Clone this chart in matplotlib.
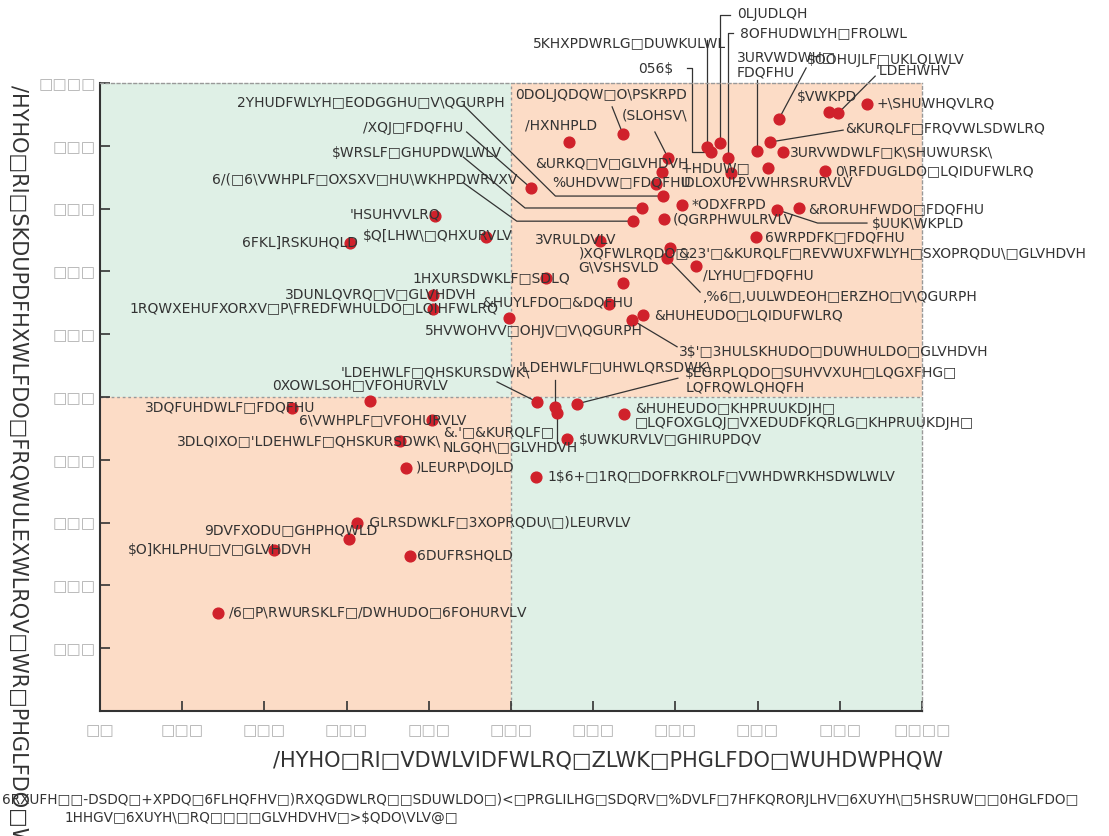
import matplotlib
matplotlib.use("Agg")
import matplotlib.pyplot as plt

plt.rcParams['font.family'] = ['DejaVu Sans']

# 疾患名(表示されている文字のまま)
disease = [
    "+\\SHUWHQVLRQ", "'LDEHWHV", "$VWKPD", "$OOHUJLF□UKLQLWLV",
    "&KURQLF□FRQVWLSDWLRQ", "3URVWDWLF□K\\SHUWURSK\\", "0\\RFDUGLDO□LQIDUFWLRQ",
    "2VWHRSRURVLV", "3URVWDWH□\nFDQFHU", "8OFHUDWLYH□FROLWL", "0LJUDLQH", "056$",
    "5KHXPDWRLG□DUWKULWL", "+HDUW□\nIDLOXUH", "(SLOHSV\\", "0DOLJQDQW□O\\PSKRPD",
    "/HXNHPLD", "&URKQ□V□GLVHDVH", "%UHDVW□FDQFHU", "2YHUDFWLYH□EODGGHU□V\\QGURPH",
    "*ODXFRPD", "&RORUHFWDO□FDQFHU", "$UUK\\WKPLD", "6WRPDFK□FDQFHU",
    "$WRSLF□GHUPDWLWLV", "6/(□6\\VWHPLF□OXSXV□HU\\WKHPDWRVXV", "(QGRPHWULRVLV",
    "/XQJ□FDQFHU", "3VRULDVLV", "&23'□&KURQLF□REVWUXFWLYH□SXOPRQDU\\□GLVHDVH",
    ",%6□,UULWDEOH□ERZHO□V\\QGURPH", "/LYHU□FDQFHU", "1HXURSDWKLF□SDLQ",
    ")XQFWLRQDO□\nG\\VSHSVLD", "&HUYLFDO□&DQFHU", "&HUHEUDO□LQIDUFWLRQ",
    "3$'□3HULSKHUDO□DUWHULDO□GLVHDVH", "5HVWOHVV□OHJV□V\\QGURPH",
    "'HSUHVVLRQ", "$Q[LHW\\□QHXURVLV", "6FKL]RSKUHQLD", "3DUNLQVRQ□V□GLVHDVH",
    "1RQWXEHUFXORXV□P\\FREDFWHULDO□LQIHFWLRQ", "0XOWLSOH□VFOHURVLV",
    "3DQFUHDWLF□FDQFHU", "6\\VWHPLF□VFOHURVLV", "3DLQIXO□'LDEHWLF□QHSKURSDWK\\",
    ")LEURP\\DOJLD", ",GLRSDWKLF□3XOPRQDU\\□)LEURVLV", "9DVFXODU□GHPHQWLD",
    "$O]KHLPHU□V□GLVHDVH", "6DUFRSHQLD", "$/6□$P\\RWURSKLF□/DWHUDO□6FOHURVLV",
    "'LDEHWLF□QHSKURSDWK\\", "'LDEHWLF□UHWLQRSDWK\\", "&.'□&KURQLF□\nNLGQH\\□GLVHDVH",
    "$EGRPLQDO□SUHVVXUH□LQGXFHG□\nLQFRQWLQHQFH",
    "&HUHEUDO□KHPRUUKDJH□\n□LQFOXGLQJ□VXEDUDFKQRLG□KHPRUUKDJH□",
    "$UWKURVLV□GHIRUPDQV", "1$6+□1RQ□DOFRKROLF□VWHDWRKHSDWLWLV",
]

# 治療満足度 (x)
satisfaction = [
    93.3, 89.8, 88.7, 82.6, 81.5, 83.1, 88.2, 81.3, 79.9, 76.4, 75.4, 74.3,
    73.8, 76.8, 69.1, 63.6, 57.1, 68.4, 67.6, 68.5, 70.8, 85.0, 82.4, 79.8,
    65.9, 64.8, 68.6, 52.4, 60.8, 69.3, 69.0, 72.5, 54.3, 63.6, 61.9, 66.1,
    64.7, 49.8, 40.8, 47.0, 30.4, 40.5, 40.5, 32.8, 23.4, 40.4, 36.5, 37.2,
    31.3, 30.3, 21.2, 37.7, 14.4, 53.2, 55.4, 55.6, 58.0, 63.7, 56.8, 53.0,
]

# 薬剤貢献度 (y)
contribution = [
    96.7, 95.2, 95.4, 94.3, 90.6, 89.0, 86.0, 86.5, 89.2, 88.1, 90.4, 89.0,
    89.8, 85.7, 88.1, 91.9, 90.6, 85.8, 83.9, 82.0, 80.6, 80.1, 79.8, 75.5,
    80.1, 78.0, 78.3, 83.3, 74.8, 73.7, 72.1, 70.9, 68.9, 68.2, 64.8, 63.1,
    62.3, 62.6, 78.8, 75.5, 74.5, 66.2, 64.0, 49.4, 48.2, 46.3, 43.0, 38.7,
    29.9, 27.4, 25.6, 24.7, 15.6, 49.2, 48.4, 47.5, 48.9, 47.3, 43.3, 37.3,
]

# ラベル位置 (左端, 中心)
label_xy = [
    (94.5, 96.7), (94.4, 101.9), (84.8, 97.8), (86.0, 103.7), (90.6, 92.8),
    (83.9, 89.0), (89.4, 86.0), (77.6, 84.1), (77.5, 102.9), (77.9, 108.0),
    (77.5, 111.0), (65.5, 102.2), (52.7, 106.4), (70.6, 85.2), (63.5, 94.9),
    (50.5, 98.1), (51.7, 93.3), (52.9, 87.3), (55.0, 84.2), (16.7, 97.0),
    (72.0, 80.6), (86.1, 79.9), (93.9, 77.5), (80.9, 75.5), (28.2, 88.9),
    (13.6, 84.7), (69.7, 78.2), (32.0, 92.8), (52.9, 75.0), (70.3, 72.9),
    (73.4, 65.9), (73.4, 69.4), (38.0, 68.9), (58.2, 71.8), (46.5, 65.1),
    (67.4, 63.1), (70.4, 57.2), (39.5, 60.5), (30.4, 79.0), (32.0, 75.6),
    (17.3, 74.5), (22.5, 66.4), (3.6, 64.2), (20.9, 51.9), (5.5, 48.4),
    (24.2, 46.3), (9.4, 43.0), (38.4, 38.7), (32.4, 29.9), (12.7, 28.8),
    (3.4, 25.6), (38.6, 24.7), (15.6, 15.6), (29.3, 54.0), (50.9, 54.8),
    (41.7, 43.2), (71.2, 52.7), (65.1, 47.0), (58.2, 43.2), (54.4, 37.3),
]

# 引き出し線 (疾患番号: 途中の点, 最後は点そのもの)
leaders = {
    1: [(94.3, 101.1)],
    3: [(85.9, 102.4)],
    4: [(90.4, 92.5)],
    8: [(79.9, 100.5)],
    9: [(77.0, 108.0), (76.4, 108.0)],
    10: [(76.6, 110.8), (75.4, 110.8)],
    11: [(71.4, 102.4), (72.0, 102.4), (72.0, 89.0)],
    12: [(73.8, 106.8)],
    14: [(67.5, 92.2)],
    15: [(62.3, 96.2)],
    19: [(44.2, 96.5), (55.4, 82.0)],
    22: [(93.3, 77.7), (87.3, 77.7)],
    24: [(44.2, 88.2), (51.7, 80.1)],
    25: [(44.2, 84.1), (50.7, 78.0)],
    27: [(44.6, 92.2)],
    30: [(73.0, 66.7)],
    36: [(70.2, 58.0)],
    53: [(48.3, 52.4)],
    54: [(55.4, 52.7)],
    55: [(55.6, 42.7)],
    56: [(70.3, 53.0)],
}

x_ticks = [0, 10, 20, 30, 40, 50, 60, 70, 80, 90, 100]
x_ticklabels = ["□□"] + ["□□□"] * 9 + ["□□□□"]
y_ticks = [10, 20, 30, 40, 50, 60, 70, 80, 90, 100]
y_ticklabels = ["□□□"] * 9 + ["□□□□"]

green = '#dff0e6'
peach = '#fcdcc6'
dark = '#333333'

fig = plt.figure(figsize=(11.09, 8.36), dpi=100)
ax = fig.add_axes([0.0902, 0.1495, 0.7412, 0.7512])
ax.set_xlim(0, 100)
ax.set_ylim(0, 100)

# 4象限の背景
ax.axvspan(0, 50, ymin=0.5, ymax=1, color=green, lw=0, zorder=0)
ax.axvspan(50, 100, ymin=0, ymax=0.5, color=green, lw=0, zorder=0)
ax.axvspan(50, 100, ymin=0.5, ymax=1, color=peach, lw=0, zorder=0)
ax.axvspan(0, 50, ymin=0, ymax=0.5, color=peach, lw=0, zorder=0)
ax.axvline(50, color='#999999', ls=(0, (2, 2)), lw=1, zorder=1)
ax.axhline(50, color='#999999', ls=(0, (2, 2)), lw=1, zorder=1)

for s in ['top', 'right']:
    ax.spines[s].set_color('#999999')
    ax.spines[s].set_linestyle((0, (2, 2)))
    ax.spines[s].set_linewidth(1)
for s in ['left', 'bottom']:
    ax.spines[s].set_color(dark)
    ax.spines[s].set_linewidth(1.5)

ax.set_xticks(x_ticks)
ax.set_xticklabels(x_ticklabels)
ax.set_yticks(y_ticks)
ax.set_yticklabels(y_ticklabels)
ax.tick_params(direction='in', length=7, width=1.2, color=dark,
               labelcolor='#b0b0b0', labelsize=11)
ax.tick_params(axis='y', pad=3)
ax.tick_params(axis='x', pad=9)

# 引き出し線
for i, pts in leaders.items():
    xs = [p[0] for p in pts] + [satisfaction[i]]
    ys = [p[1] for p in pts] + [contribution[i]]
    ax.plot(xs, ys, color=dark, lw=0.9, clip_on=False, zorder=2)

ax.scatter(satisfaction, contribution, s=60, color='#d0212b', zorder=3, clip_on=False)

for name, (lx, ly) in zip(disease, label_xy):
    ax.text(lx, ly, name, fontsize=10, color=dark, ha='left', va='center',
            linespacing=1.05, zorder=4)

fig.text(608 / 1109, 1 - 761 / 836, "/HYHO□RI□VDWLVIDFWLRQ□ZLWK□PHGLFDO□WUHDWPHQW",
         fontsize=15, color=dark, ha='center', va='center')
fig.text(18 / 1109, 1 - 85 / 836,
         "/HYHO□RI□SKDUPDFHXWLFDO□FRQWULEXWLRQV□WR□PHGLFDO□WUHDWPHQW",
         fontsize=15, color=dark, ha='center', va='top', rotation=-90)

fig.text(2 / 1109, 1 - 800 / 836,
         "6RXUFH□□-DSDQ□+XPDQ□6FLHQFHV□)RXQGDWLRQ□□SDUWLDO□)<□PRGLILHG□SDQRV□%DVLF□7HFKQRORJLHV□6XUYH\\□5HSRUW□□0HGLFDO□",
         fontsize=9.8, color=dark, ha='left', va='center')
fig.text(65 / 1109, 1 - 818 / 836,
         "1HHGV□6XUYH\\□RQ□□□□GLVHDVHV□>$QDO\\VLV@□",
         fontsize=9.8, color=dark, ha='left', va='center')

fig.savefig('out.png', dpi=100, facecolor='white')
